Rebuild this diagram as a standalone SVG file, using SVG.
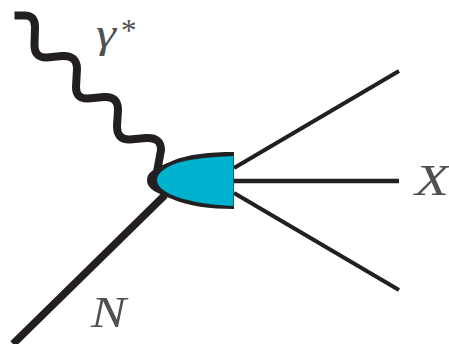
<svg xmlns="http://www.w3.org/2000/svg" width="449" height="344" viewBox="0 0 449 344">
<style>
.l{fill:none;stroke:#231f20;stroke-linecap:butt}
.t{font-family:"Liberation Serif",serif;font-style:italic;fill:#505052}
</style>
<rect width="449" height="344" fill="#fff"/>
<g id="connectors">
<path id="photon" class="l" stroke-width="8" d="M14.500 15.500L24 15.500Q35 15 35 27L34.500 44Q34 58 47 57.500L62 56Q77 55 77 69L76 87Q76 99 88 98.500L104 97Q118 96 118 110L117 126Q117 140 130 139.500L146 138Q161 137 161 150L157 172"/>
<path id="nucleon" class="l" stroke-width="7.500" d="M165 195L13 344"/>
<path id="x1" class="l" stroke-width="4" d="M234 168L399 71"/>
<path id="x2" class="l" stroke-width="4.500" d="M234 181L399 181"/>
<path id="x3" class="l" stroke-width="4" d="M234 193L399 290"/>
</g>
<g id="blob">
<path fill="#231f20" d="M234 152C210 152 188 154 172 161C165 164 157 167 152 171C149 173 147 176 147 180C147 185 150 188 154 191C159 194 165 196 172 199C188 206 210 209 234 209Z"/>
<path fill="#00b1cd" d="M233.500 156C210 157 182 159 168 167C161 171 157 175 157 180C157 185 161 189 168 193C182 201 210 205 233.500 206Z"/>
</g>
<g id="labels">
<text class="t" x="96" y="47" font-size="42" textLength="20" lengthAdjust="spacingAndGlyphs">γ</text>
<text x="121" y="41" font-size="31" font-family="Liberation Serif,serif" fill="#505052">*</text>
<text class="t" x="415" y="195" font-size="44" textLength="34" lengthAdjust="spacingAndGlyphs">X</text>
<text class="t" x="91" y="327" font-size="44" textLength="35" lengthAdjust="spacingAndGlyphs">N</text>
</g>
</svg>
